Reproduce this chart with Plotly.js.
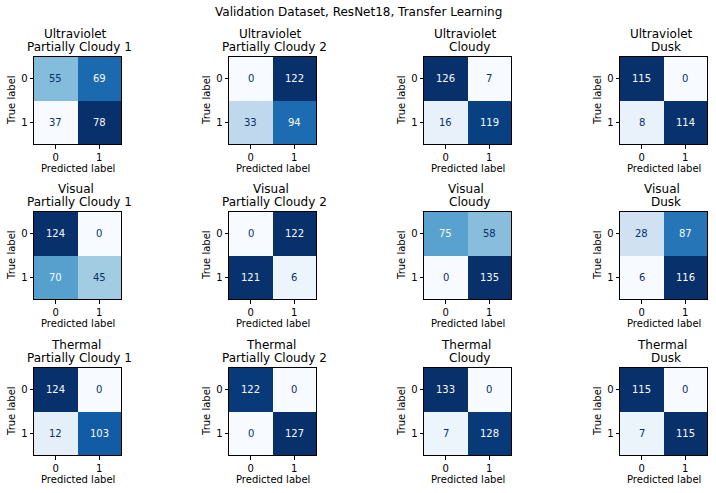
<!DOCTYPE html>
<html>
<head>
<meta charset="utf-8">
<script src="https://cdn.plot.ly/plotly-3.0.1.min.js"></script>
<style>html,body{margin:0;padding:0;background:#fff;}#chart{width:716px;height:493px;}</style>
</head>
<body>
<div id="chart"></div>
<script>
// ---- data ----
const suptitle = 'Validation Dataset, ResNet18, Transfer Learning';
const modalities = ['Ultraviolet', 'Visual', 'Thermal'];
const conditions = ['Partially Cloudy 1', 'Partially Cloudy 2', 'Cloudy', 'Dusk'];
const tickLabels = ['0', '1'];
const xAxisLabel = 'Predicted label';
const yAxisLabel = 'True label';

const uvPC1 = [[55, 69], [37, 78]];
const uvPC2 = [[0, 122], [33, 94]];
const uvCloudy = [[126, 7], [16, 119]];
const uvDusk = [[115, 0], [8, 114]];
const visPC1 = [[124, 0], [70, 45]];
const visPC2 = [[0, 122], [121, 6]];
const visCloudy = [[75, 58], [0, 135]];
const visDusk = [[28, 87], [6, 116]];
const thPC1 = [[124, 0], [12, 103]];
const thPC2 = [[122, 0], [0, 127]];
const thCloudy = [[133, 0], [7, 128]];
const thDusk = [[115, 0], [7, 115]];

const matrices = [
  [uvPC1, uvPC2, uvCloudy, uvDusk],
  [visPC1, visPC2, visCloudy, visDusk],
  [thPC1, thPC2, thCloudy, thDusk]
];

// ---- styling ----
const W = 716, H = 493;
const colLeft = [34, 229, 424, 620];
const rowTop = [57, 212, 368];
const S = 87;
const FONT = 'DejaVu Sans, Liberation Sans, sans-serif';
const blues = [
  [0.0, '#f7fbff'], [0.125, '#deebf7'], [0.25, '#c6dbef'], [0.375, '#9ecae1'],
  [0.5, '#6baed6'], [0.625, '#4292c6'], [0.75, '#2171b5'], [0.875, '#08519c'], [1.0, '#08306b']
];
const darkText = '#08306b', lightText = '#f7fbff';

const data = [];
const layout = {
  width: W, height: H,
  margin: {l: 0, r: 0, t: 0, b: 0},
  paper_bgcolor: '#fff', plot_bgcolor: '#fff',
  showlegend: false,
  font: {family: FONT, color: '#000', size: 10},
  annotations: []
};
const px2y = p => 1 - p / H;
const px2x = p => p / W;

layout.annotations.push({
  text: suptitle, xref: 'paper', yref: 'paper', x: 0.5, y: px2y(12.5),
  xanchor: 'center', yanchor: 'middle', showarrow: false,
  font: {size: 12, family: FONT, color: '#000'}
});

let n = 0;
for (let r = 0; r < 3; r++) {
  for (let c = 0; c < 4; c++) {
    n++;
    const suffix = n === 1 ? '' : String(n);
    const z = matrices[r][c];
    const flat = z.flat();
    const zmin = Math.min(...flat), zmax = Math.max(...flat);
    const thresh = (zmin + zmax) / 2;
    data.push({
      type: 'heatmap', z: z, x: [0, 1], y: [0, 1],
      zmin: zmin, zmax: zmax, colorscale: blues, showscale: false,
      xaxis: 'x' + suffix, yaxis: 'y' + suffix, hoverinfo: 'z'
    });
    const left = colLeft[c], top = rowTop[r];
    const axBase = {
      showgrid: false, zeroline: false, showline: true, mirror: true,
      linecolor: '#000', linewidth: 1, ticks: 'outside', ticklen: 3.5, tickwidth: 1,
      tickcolor: '#000', tickmode: 'array', tickvals: [0, 1], ticktext: tickLabels,
      tickfont: {size: 10, family: FONT, color: '#000'}, fixedrange: true
    };
    layout['xaxis' + suffix] = Object.assign({}, axBase, {
      domain: [px2x(left), px2x(left + S)], range: [-0.5, 1.5],
      anchor: 'y' + suffix
    });
    layout['yaxis' + suffix] = Object.assign({}, axBase, {
      domain: [px2y(top + S), px2y(top)], range: [1.5, -0.5],
      anchor: 'x' + suffix
    });
    // cell values
    for (let i = 0; i < 2; i++) {
      for (let j = 0; j < 2; j++) {
        const v = z[i][j];
        layout.annotations.push({
          text: String(v), xref: 'x' + suffix, yref: 'y' + suffix, x: j, y: i,
          showarrow: false, xanchor: 'center', yanchor: 'middle',
          font: {size: 10, family: FONT, color: v < thresh ? darkText : lightText}
        });
      }
    }
    const cx = px2x(left + S / 2);
    // subplot titles
    layout.annotations.push({
      text: modalities[r], xref: 'paper', yref: 'paper', x: cx, xshift: -2,
      y: px2y(top - 23), xanchor: 'center', yanchor: 'middle', showarrow: false,
      font: {size: 12, family: FONT, color: '#000'}
    });
    layout.annotations.push({
      text: conditions[c], xref: 'paper', yref: 'paper', x: cx, xshift: 2,
      y: px2y(top - 10), xanchor: 'center', yanchor: 'middle', showarrow: false,
      font: {size: 12, family: FONT, color: '#000'}
    });
    // axis titles
    layout.annotations.push({
      text: xAxisLabel, xref: 'paper', yref: 'paper', x: cx,
      y: px2y(top + S + 24.5), xanchor: 'center', yanchor: 'middle', showarrow: false,
      font: {size: 10, family: FONT, color: '#000'}
    });
    layout.annotations.push({
      text: yAxisLabel, xref: 'paper', yref: 'paper', x: px2x(left - 22.5),
      y: px2y(top + S / 2), xanchor: 'center', yanchor: 'middle', showarrow: false,
      textangle: -90, font: {size: 10, family: FONT, color: '#000'}
    });
  }
}

Plotly.newPlot('chart', data, layout, {displayModeBar: false, staticPlot: true});
</script>
</body>
</html>
